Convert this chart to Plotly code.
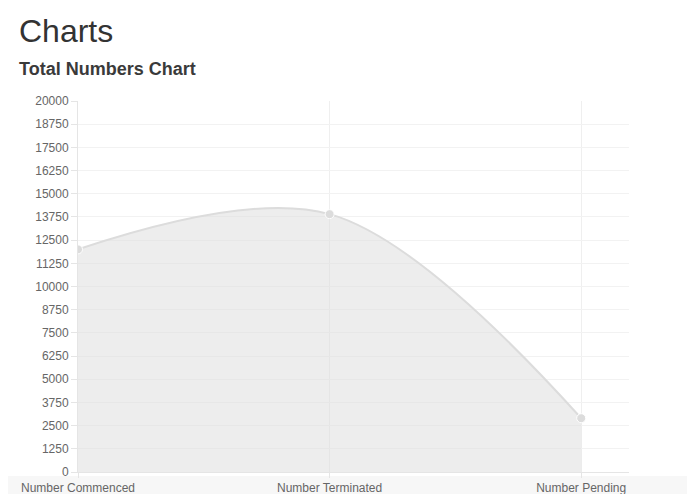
import plotly.graph_objects as go

# data
categories = ["Number Commenced", "Number Terminated", "Number Pending"]
totals = [12000, 13900, 2900]
y_ticks = [i * 1250 for i in range(17)]
y_tick_labels = [str(v) for v in y_ticks]

fig = go.Figure()

fig.add_trace(go.Scatter(
    x=[0, 1, 2],
    y=totals,
    mode="lines+markers",
    line=dict(color="#dcdcdc", width=2, shape="spline", smoothing=1.0),
    marker=dict(size=9, color="#dcdcdc", line=dict(color="#ffffff", width=1)),
    fill="tozeroy",
    fillcolor="rgba(220,220,220,0.5)",
    hoverinfo="skip",
))

# page body adds an 8px margin, so the figure is a bit smaller than the window
fig.update_layout(
    width=687,
    height=486,
    margin=dict(l=70, r=66, t=93, b=22),
    paper_bgcolor="white",
    plot_bgcolor="white",
    showlegend=False,
    font=dict(family="Liberation Sans, Arial, sans-serif", color="#666666", size=12),
    annotations=[
        dict(text="Charts", xref="paper", yref="paper", x=-0.11, y=1.189,
             xanchor="left", yanchor="middle", showarrow=False,
             font=dict(size=32, color="#333333")),
        dict(text="<b>Total Numbers Chart</b>", xref="paper", yref="paper", x=-0.11, y=1.086,
             xanchor="left", yanchor="middle", showarrow=False,
             font=dict(size=18, color="#3a3a3a")),
    ],
    shapes=[
        # faint grey band behind the category labels
        dict(type="rect", xref="paper", yref="paper", x0=-0.2, x1=1.2,
             y0=-0.07, y1=-0.011, fillcolor="#f7f7f7", line=dict(width=0),
             layer="below"),
    ],
)

fig.update_xaxes(
    range=[0, 2.19],
    tickvals=[0, 1, 2],
    ticktext=categories,
    showgrid=True,
    gridcolor="#efefef",
    gridwidth=1,
    zeroline=False,
    showline=True,
    linecolor="#e5e5e5",
    ticks="outside",
    ticklen=5,
    tickcolor="#e5e5e5",
    tickfont=dict(size=12, color="#666666"),
    automargin=False,
    fixedrange=True,
)

fig.update_yaxes(
    range=[0, 20000],
    tickvals=y_ticks,
    ticktext=y_tick_labels,
    showgrid=True,
    gridcolor="#f2f2f2",
    gridwidth=1,
    zeroline=False,
    showline=True,
    linecolor="#e5e5e5",
    ticks="outside",
    ticklen=6,
    tickcolor="#e5e5e5",
    tickfont=dict(size=12, color="#666666"),
    automargin=False,
    fixedrange=True,
)

fig.write_html("out.html")
